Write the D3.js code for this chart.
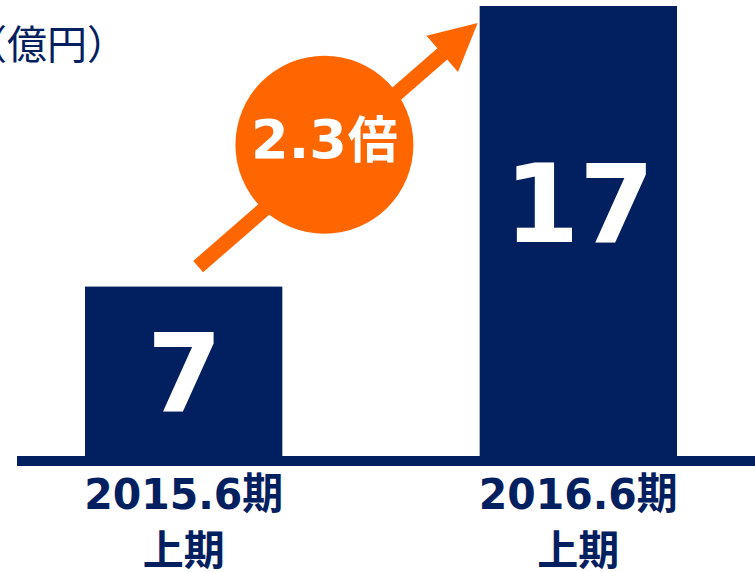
<!DOCTYPE html>
<html><head><meta charset="utf-8">
<script src="https://cdn.jsdelivr.net/npm/d3@7"></script>
<style>html,body{margin:0;padding:0;background:#fff;overflow:hidden}</style>
</head><body>
<script>
const categories = ["2015.6期", "2016.6期"];
const subLabels = ["上期", "上期"];
const values = [6.4, 17];
const valueLabels = ["7", "17"];
const unitLabel = "（億円）";
const growthLabel = ["2.3", "倍"];

const W = 755, H = 572;
const NAVY = "#022060", ORANGE = "#FF6600";
const NUM = "'DejaVu Sans', 'Noto Sans CJK JP', sans-serif";
const CJK = "'Noto Sans CJK JP', sans-serif";

const svg = d3.select("body").append("svg").attr("width", W).attr("height", H);

const x = d3.scaleBand().domain(categories).range([85, 677]).paddingInner(0.5).paddingOuter(0);
const y = d3.scaleLinear().domain([0, 17]).range([456, 6]);

// bars
svg.selectAll("rect.bar").data(values).join("rect").attr("class", "bar")
  .attr("x", (d, i) => x(categories[i])).attr("width", x.bandwidth())
  .attr("y", d => y(d)).attr("height", d => y(0) - y(d)).attr("fill", NAVY);

// baseline
svg.append("rect").attr("x", 17).attr("y", y(0)).attr("width", W - 17).attr("height", 10).attr("fill", NAVY);

// value labels
svg.selectAll("text.val").data(values).join("text").attr("class", "val")
  .attr("x", (d, i) => x(categories[i]) + x.bandwidth() / 2 + 1)
  .attr("y", (d, i) => i === 0 ? (y(0) + y(d)) / 2 + 40 : y(d) + 236)
  .attr("text-anchor", "middle").attr("fill", "#fff")
  .attr("font-family", NUM).attr("font-weight", "bold").attr("font-size", 108)
  .text((d, i) => valueLabels[i]);

// category labels
svg.selectAll("text.cat").data(categories).join("text").attr("class", "cat")
  .attr("x", d => x(d) + x.bandwidth() / 2).attr("y", y(0) + 53)
  .attr("text-anchor", "middle").attr("fill", NAVY)
  .attr("font-family", NUM).attr("font-weight", "bold").attr("font-size", 43)
  .attr("textLength", 199).attr("lengthAdjust", "spacingAndGlyphs")
  .text(d => d);
svg.selectAll("text.sub").data(subLabels).join("text").attr("class", "sub")
  .attr("x", (d, i) => x(categories[i]) + x.bandwidth() / 2).attr("y", y(0) + 109)
  .attr("text-anchor", "middle").attr("fill", NAVY)
  .attr("font-family", CJK).attr("font-weight", "bold").attr("font-size", 41)
  .text(d => d);

// unit label
svg.append("text").attr("x", -33).attr("y", 59).attr("text-anchor", "start")
  .attr("fill", NAVY).attr("font-family", CJK).attr("font-size", 40).text(unitLabel);

// growth arrow
const b1 = x(categories[0]), b2 = x(categories[1]);
const tail = [b1 + x.bandwidth() / 2 + 14.5, y(values[0]) - 20];
const tip = [b2 - 2, y(values[1]) + 17];
const dx = tip[0] - tail[0], dy = tip[1] - tail[1];
const len = Math.hypot(dx, dy);
const u = [dx / len, dy / len], n = [-u[1], u[0]];
const headL = 47, headW = 24;
const base = [tip[0] - headL * u[0], tip[1] - headL * u[1]];
svg.append("line").attr("x1", tail[0]).attr("y1", tail[1])
  .attr("x2", base[0] + 2 * u[0]).attr("y2", base[1] + 2 * u[1])
  .attr("stroke", ORANGE).attr("stroke-width", 15);
svg.append("path").attr("d", d3.line()([
  tip, [base[0] + headW * n[0], base[1] + headW * n[1]], [base[0] - headW * n[0], base[1] - headW * n[1]]
]) + "Z").attr("fill", ORANGE);

const cx = (tail[0] + tip[0]) / 2 - 13.5, cy = (tail[1] + tip[1]) / 2;
svg.append("circle").attr("cx", cx).attr("cy", cy).attr("r", 89).attr("fill", ORANGE);
const g = svg.append("text").attr("x", cx).attr("y", cy + 13).attr("text-anchor", "middle")
  .attr("fill", "#fff").attr("font-weight", "bold");
g.append("tspan").attr("font-family", NUM).attr("font-size", 54).text(growthLabel[0]);
g.append("tspan").attr("font-family", CJK).attr("font-size", 50).attr("dx", 1).text(growthLabel[1]);
</script>
</body></html>
